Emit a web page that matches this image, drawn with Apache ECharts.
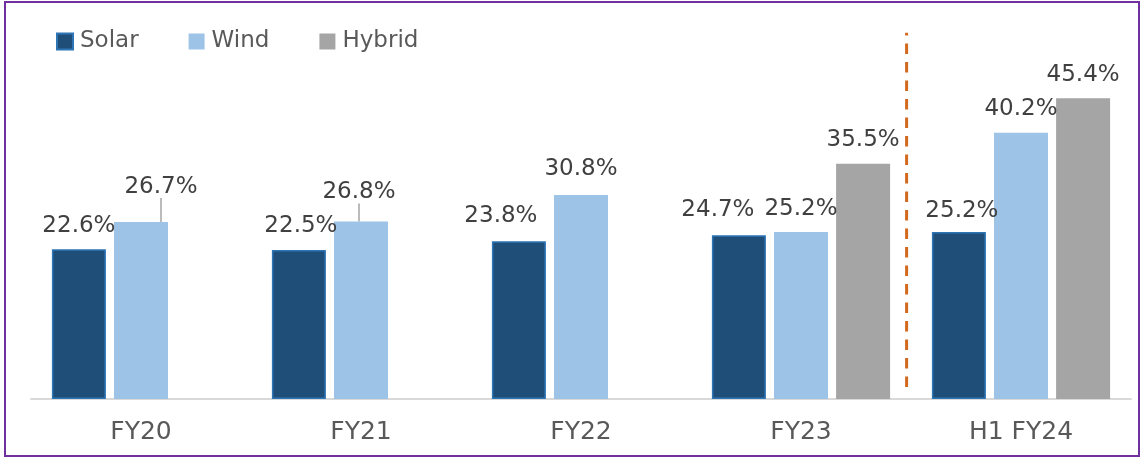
<!DOCTYPE html>
<html>
<head>
<meta charset="utf-8">
<script src="https://cdn.jsdelivr.net/npm/echarts@6/dist/echarts.min.js"></script>
<style>
html, body { margin: 0; padding: 0; background: #fff; }
#chart { width: 1142px; height: 458px; }
.frame {
    position: absolute; left: 4px; top: 1px;
    width: 1132px; height: 452px;
    border: 2px solid #7030A0;
    pointer-events: none;
}
</style>
</head>
<body>
<div id="chart"></div>
<div class="frame"></div>
<script>
// data
const categories = ['FY20', 'FY21', 'FY22', 'FY23', 'H1 FY24'];
const solar = [22.6, 22.5, 23.8, 24.7, 25.2];
const wind = [26.7, 26.8, 30.8, 25.2, 40.2];
const hybrid = [null, null, null, 35.5, 45.4];
// label nudges (px) as placed in the source chart
const solarShift = [[0, 0], [2, 0], [-18, -2], [-21, -2], [3, 2]];
const windShift = [[20, -12], [-2, -6], [0, -2], [0, 0], [0, 0]];
const windLeader = [true, true, false, false, false];
// divider between FY23 and H1 FY24 (x in category units, y in %)
const dividerX = 3.98;
const dividerY = [1.8, 55.3];

const font = 'DejaVu Sans';
const labelStyle = {
    show: true,
    position: 'top',
    distance: 12,
    color: '#404040',
    fontFamily: font,
    fontSize: 23,
    formatter: p => p.value.toFixed(1) + '%'
};

const chart = echarts.init(document.getElementById('chart'));
const shifts = [solarShift, windShift, null];

let option = {
    animation: false,
    backgroundColor: '#fff',
    legend: {
        data: ['Solar', 'Wind', 'Hybrid'],
        left: 56,
        top: 30,
        padding: 0,
        icon: 'rect',
        itemWidth: 16,
        itemHeight: 16,
        itemGap: 50,
        textStyle: {
            color: '#595959',
            fontFamily: font,
            fontSize: 23,
            padding: [0, 0, 0, 2]
        }
    },
    grid: { left: 31, right: 11, top: 28, bottom: 59 },
    xAxis: [{
        type: 'category',
        data: categories,
        axisLine: { lineStyle: { color: '#D9D9D9', width: 2 } },
        axisTick: { show: false },
        axisLabel: {
            color: '#595959',
            fontFamily: font,
            fontSize: 25,
            margin: 21
        }
    }, {
        type: 'value',
        min: 0,
        max: 5,
        show: false
    }],
    yAxis: {
        type: 'value',
        min: 0,
        max: 56,
        show: false
    },
    series: [{
        name: 'Solar',
        type: 'bar',
        data: solar,
        barWidth: 54,
        barGap: '15%',
        itemStyle: { color: '#1F4E79', borderColor: '#2E75B6', borderWidth: 1.5 },
        label: labelStyle
    }, {
        name: 'Wind',
        type: 'bar',
        data: wind.map((v, i) => ({
            value: v,
            labelLine: { show: windLeader[i] }
        })),
        barWidth: 54,
        barGap: '15%',
        itemStyle: { color: '#9DC3E6' },
        label: labelStyle,
        labelLine: { show: false, lineStyle: { color: '#A5A5A5', width: 1.5 } }
    }, {
        name: 'Hybrid',
        type: 'bar',
        data: hybrid,
        barWidth: 54,
        barGap: '15%',
        itemStyle: { color: '#A5A5A5' },
        label: labelStyle
    }, {
        name: 'divider',
        type: 'line',
        xAxisIndex: 1,
        yAxisIndex: 0,
        data: dividerY.map(y => [dividerX, y]),
        symbol: 'none',
        silent: true,
        lineStyle: { color: '#D2691E', width: 3, type: [10.5, 8] }
    }],
    labelLayout: p => {
        const s = shifts[p.seriesIndex];
        if (!s) return {};
        return { dx: s[p.dataIndex][0], dy: s[p.dataIndex][1] };
    }
};

chart.setOption(option);
window.addEventListener('resize', () => chart.resize());
</script>
</body>
</html>
